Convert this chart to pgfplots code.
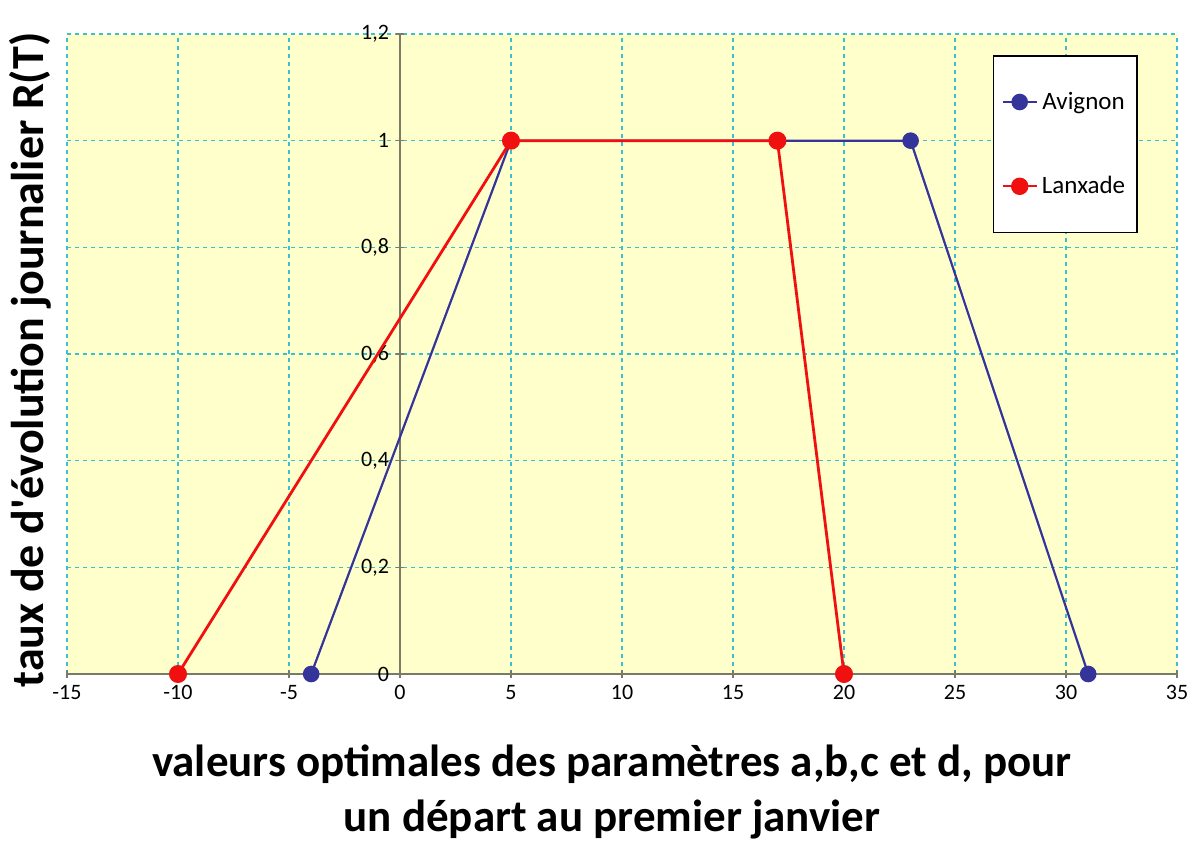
\documentclass[border=0pt]{standalone}
\usepackage{fontspec}
\setmainfont{Carlito}
\usepackage{pgfplots}
\pgfplotsset{compat=1.18}
\usetikzlibrary{calc}
\definecolor{Navy}{HTML}{34349A}
\definecolor{Rouge}{HTML}{F01010}
\definecolor{Fond}{HTML}{FFFFCC}
\definecolor{Grille}{HTML}{3CC0CC}
\definecolor{Trait}{HTML}{7A7A68}
\begin{document}
\begin{tikzpicture}
\begin{axis}[
  scale only axis, width=555pt, height=320pt,
  xmin=-15, xmax=35, ymin=0, ymax=1.2,
  xtick={-15,-10,...,35}, ytick={0,0.2,...,1.2},
  axis lines=middle, axis line style={-,draw=Trait,line width=0.7pt},
  hide obscured x ticks=false, hide obscured y ticks=false,
  axis background/.style={fill=Fond},
  grid=major, major grid style={dash pattern=on 2pt off 2pt,draw=Grille,line width=0.6pt},
  tick style={draw=Trait,line width=0.6pt}, major tick length=4pt,
  /pgf/number format/use comma, /pgf/number format/assume math mode=true,
  tick label style={font=\fontsize{11}{13}\selectfont},
  every axis x label/.style={at={(rel axis cs:0.5,0)},anchor=north,yshift=-35pt,xshift=-5pt,
    align=center,inner sep=0pt,font=\fontsize{22.5}{27.5}\selectfont\bfseries},
  every axis y label/.style={at={(rel axis cs:0,0.5)},xshift=-18.5pt,yshift=-3pt,rotate=90,anchor=center,
    inner sep=0pt,font=\fontsize{23}{27}\selectfont\bfseries},
  xlabel={valeurs optimales des paramètres a,b,c et d, pour\\un départ au premier janvier},
  ylabel={taux de d\textquotesingle évolution journalier R(T)},
  legend style={at={(rel axis cs:0.834,0.967)},anchor=north west,draw=black,fill=white,
    line width=0.8pt,font=\fontsize{12.5}{14}\selectfont,row sep=28pt,inner xsep=4pt,inner ysep=16pt},
  legend image post style={line width=1.1pt},
  clip=false,
]
\addplot[Navy,line width=1.1pt,mark=*,mark size=3.6pt] coordinates {(-4,0) (5,1) (23,1) (31,0)};
\addplot[Rouge,line width=1.4pt,mark=*,mark size=3.8pt] coordinates {(-10,0) (5,1) (17,1) (20,0)};
\legend{Avignon,Lanxade}
\coordinate (ll) at (rel axis cs:0,0);
\coordinate (ur) at (rel axis cs:1,1);
\end{axis}
\pgfresetboundingbox
\path[use as bounding box] ($(ll)+(-33.5pt,-84.5pt)$) rectangle ($(ur)+(6.5pt,17pt)$);
\end{tikzpicture}
\end{document}
